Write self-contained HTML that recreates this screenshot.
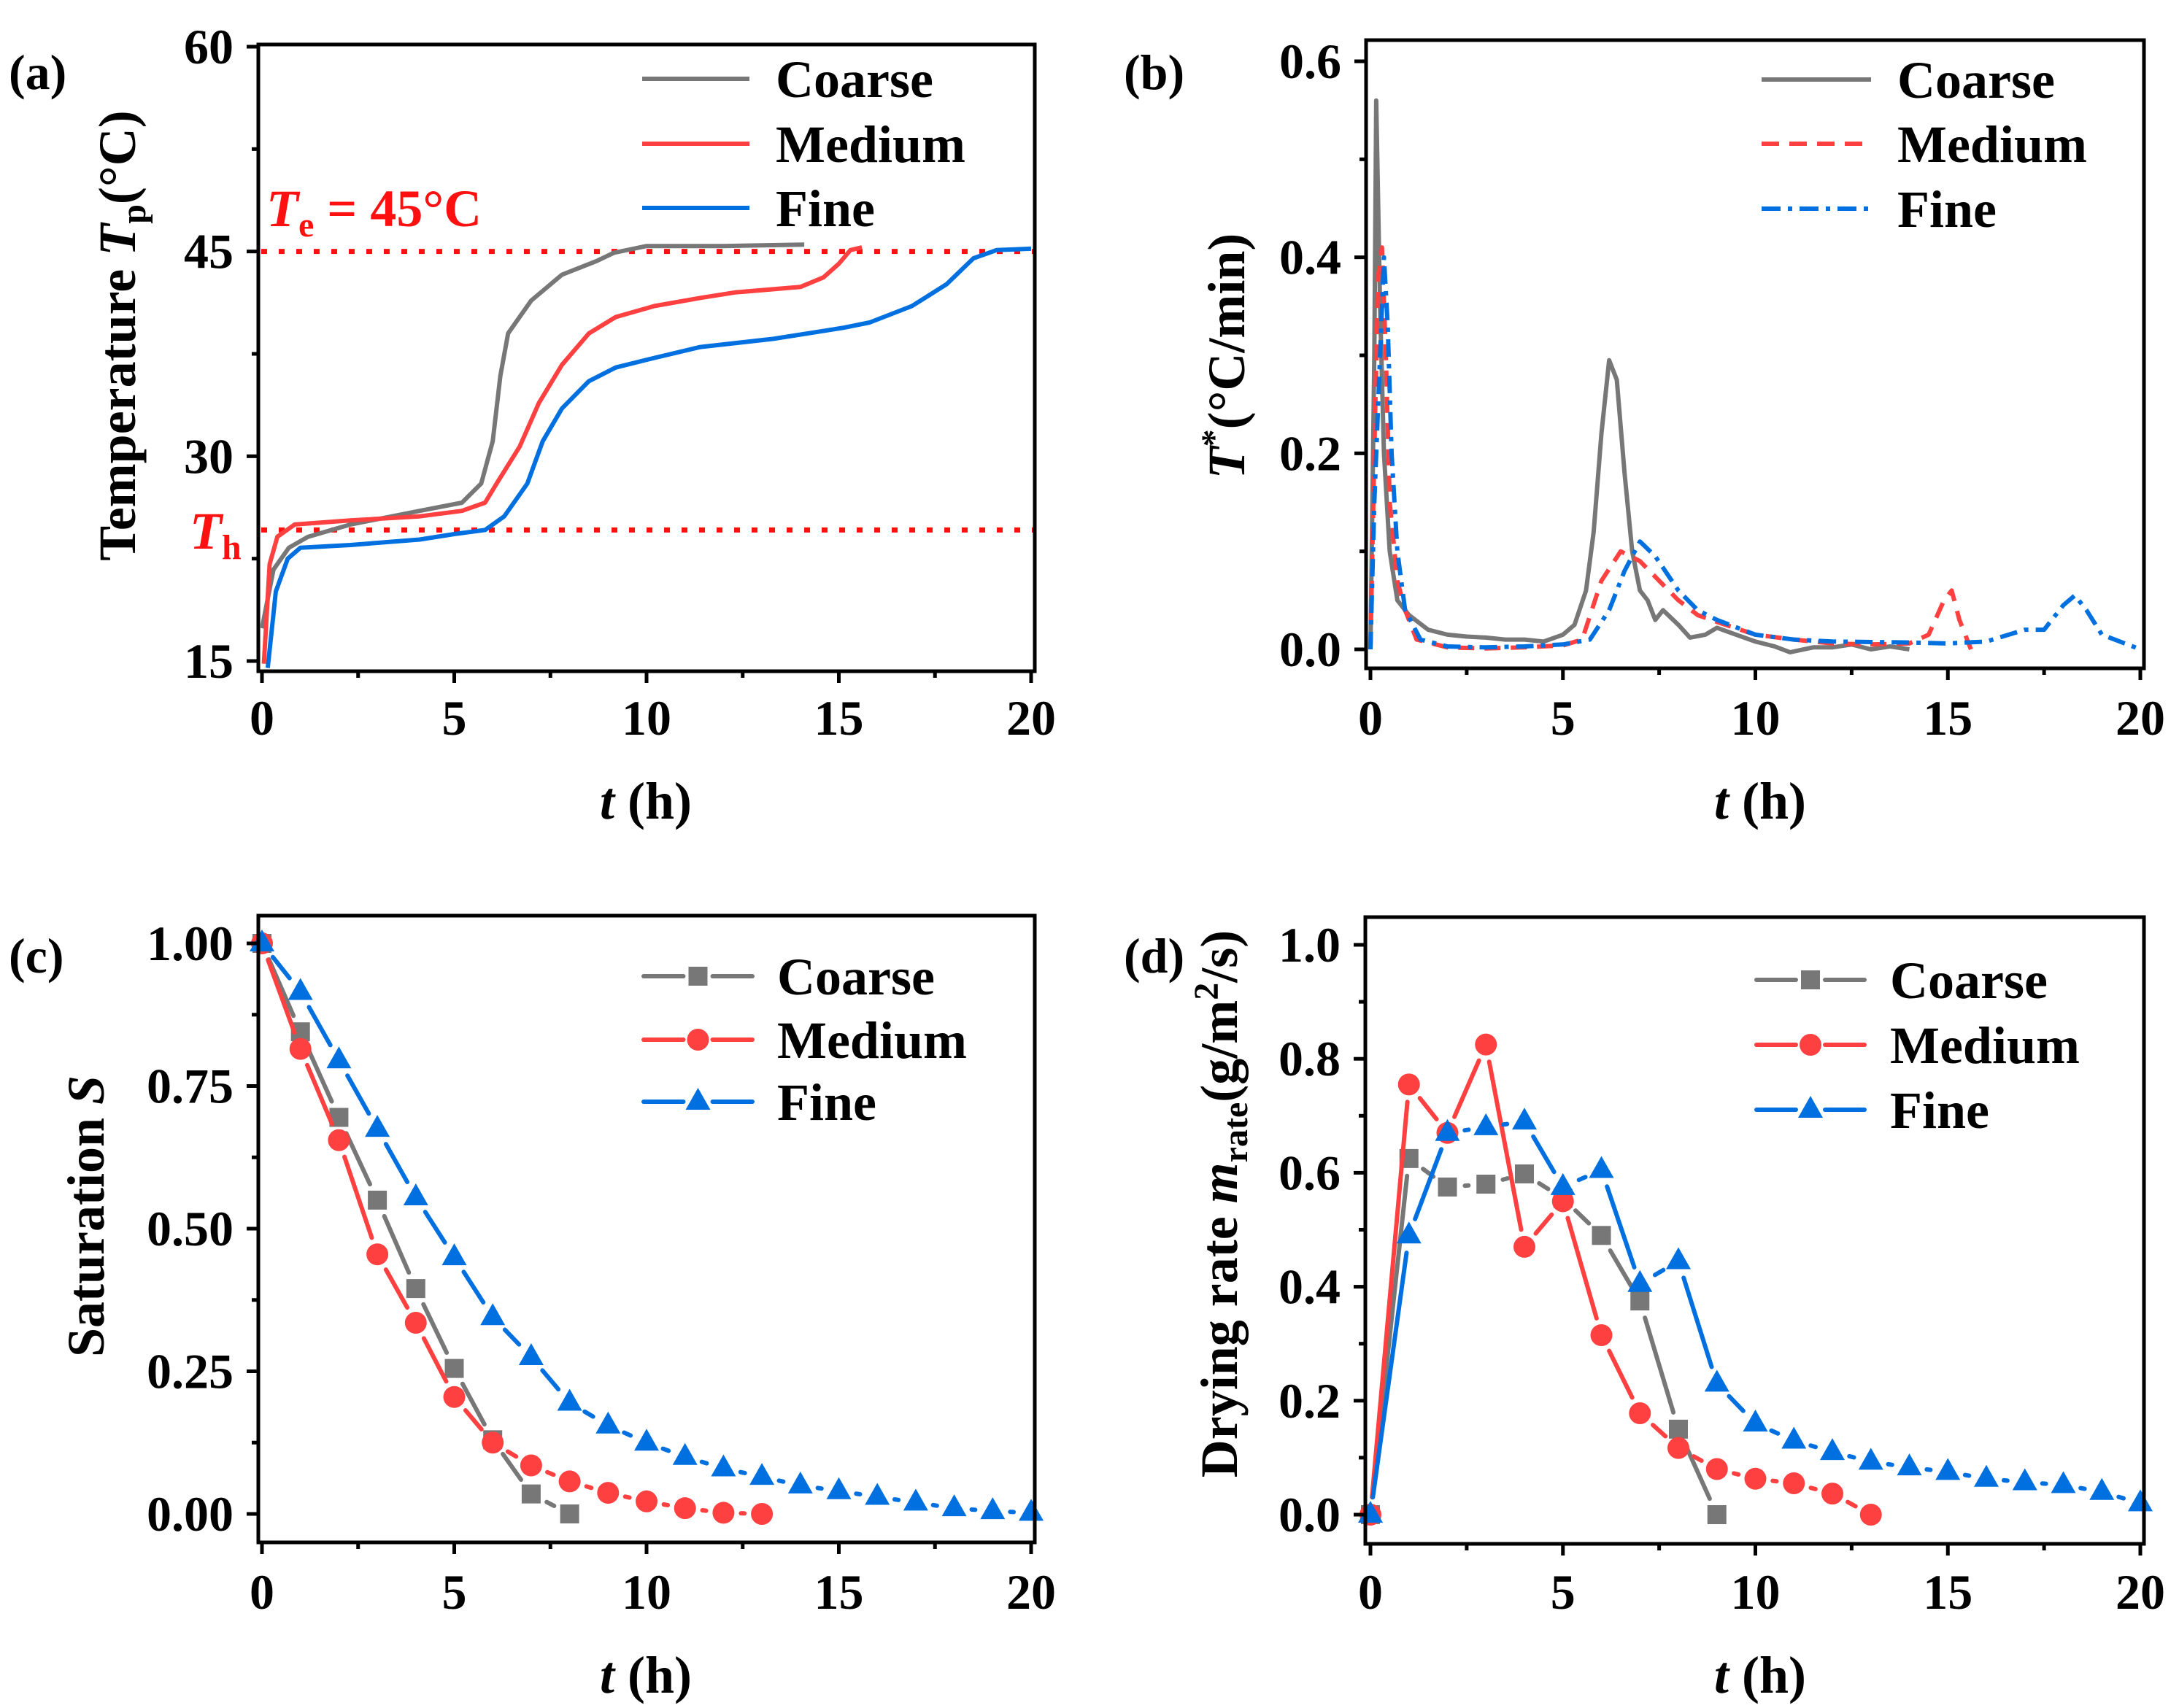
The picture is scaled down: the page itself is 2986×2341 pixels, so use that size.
<!DOCTYPE html>
<html><head><meta charset="utf-8"><style>
html,body{margin:0;padding:0;background:#fff}
svg{display:block}
text{font-family:"Liberation Serif",serif;font-weight:bold;fill:#000}
</style></head><body>
<svg id="fig" xmlns="http://www.w3.org/2000/svg" width="2986" height="2341" viewBox="0 0 2986 2341"></svg>
<script>
// ---------- DATA ----------
// (a) particle temperature
const aCoarseT=[0,0.3,0.7,1.2,2.3,4.1,5.2,5.7,6.0,6.2,6.4,7.0,7.8,8.7,9.15,10.0,12,14.1];
const aCoarseV=[17.4,21.7,23.3,24.1,25.0,26.0,26.6,28.0,31.1,35.9,39.0,41.4,43.3,44.3,44.9,45.4,45.4,45.5];
const aMediumT=[0.05,0.2,0.4,0.85,2.3,4.1,5.2,5.8,6.1,6.7,7.2,7.8,8.5,9.2,10.2,11.4,12.3,14.0,14.6,15.0,15.3,15.6];
const aMediumV=[14.8,22.1,24.1,25.0,25.3,25.6,26.0,26.6,28.0,30.7,33.9,36.7,39.0,40.2,41.0,41.6,42.0,42.4,43.1,44.1,45.1,45.3];
const aFineT=[0.15,0.36,0.67,1.0,2.3,4.1,5.0,5.8,6.3,6.9,7.3,7.8,8.5,9.2,10.2,11.4,13.3,15.1,15.8,16.9,17.8,18.5,19.1,20];
const aFineV=[14.5,20.1,22.5,23.3,23.5,23.9,24.3,24.6,25.6,28.0,31.1,33.5,35.5,36.5,37.2,38.0,38.6,39.4,39.8,41.0,42.6,44.5,45.1,45.2];
// (b) heating rate
const bCoarseT=[0,0.1,0.15,0.25,0.35,0.5,0.7,1,1.5,2,2.5,3,3.5,4,4.5,5,5.3,5.6,5.8,6.0,6.2,6.4,6.6,6.8,7.0,7.2,7.4,7.6,8,8.3,8.7,9,9.5,10,10.5,10.9,11.5,12,12.5,13,13.5,14];
const bCoarseV=[0,0.3,0.56,0.35,0.2,0.1,0.05,0.035,0.02,0.015,0.013,0.012,0.01,0.01,0.008,0.015,0.025,0.06,0.12,0.22,0.295,0.275,0.18,0.1,0.06,0.05,0.03,0.04,0.025,0.012,0.015,0.022,0.015,0.008,0.003,-0.003,0.002,0.002,0.005,0,0.003,0];
const bMediumT=[0,0.1,0.2,0.3,0.4,0.5,0.7,0.9,1.2,2,3,4,5,5.5,6,6.5,7,7.5,8,8.5,9,10,11,12,13,14,14.5,14.9,15.1,15.3,15.6];
const bMediumV=[0,0.2,0.38,0.41,0.3,0.15,0.07,0.04,0.01,0.002,0.001,0.002,0.004,0.01,0.07,0.1,0.09,0.07,0.05,0.035,0.028,0.015,0.01,0.006,0.005,0.006,0.015,0.05,0.06,0.03,0];
const bFineT=[0,0.1,0.25,0.35,0.45,0.55,0.7,0.9,1.3,2,3,4,5,5.7,6.2,6.6,7.0,7.4,8,8.5,9,10,11,12,14,15,16,17,17.5,18,18.3,18.6,19,20];
const bFineV=[0,0.15,0.3,0.4,0.33,0.2,0.1,0.04,0.01,0.003,0.002,0.003,0.005,0.01,0.04,0.08,0.11,0.095,0.06,0.04,0.03,0.015,0.01,0.008,0.007,0.006,0.008,0.02,0.02,0.045,0.055,0.04,0.015,0];
// (c) saturation
const cCoarse=[1.0,0.845,0.695,0.55,0.395,0.255,0.13,0.035,0.0];
const cMedium=[1.0,0.815,0.655,0.455,0.335,0.205,0.125,0.085,0.057,0.037,0.022,0.01,0.002,0.0];
const cFine=[1.0,0.915,0.795,0.675,0.555,0.45,0.345,0.275,0.195,0.155,0.125,0.1,0.08,0.065,0.05,0.04,0.03,0.02,0.01,0.005,0.002];
// (d) drying rate
const dCoarse=[0,0.625,0.575,0.58,0.598,0.555,0.49,0.375,0.15,0.0];
const dMedium=[0,0.755,0.67,0.825,0.47,0.55,0.315,0.178,0.117,0.08,0.063,0.055,0.037,0.0];
const dFine=[0,0.49,0.67,0.68,0.69,0.575,0.605,0.405,0.445,0.23,0.16,0.13,0.11,0.093,0.083,0.075,0.063,0.057,0.052,0.04,0.02];
const xTicks=[0,5,10,15,20];
const seriesNames=["Coarse","Medium","Fine"];

// ---------- DRAW ----------
const NS="http://www.w3.org/2000/svg";
const svg=document.getElementById('fig');
const GRAY="#777777",RED="#ff4040",BLUE="#0070e0";
function el(tag,attrs,parent){const e=document.createElementNS(NS,tag);for(const k in attrs)e.setAttribute(k,attrs[k]);(parent||svg).appendChild(e);return e;}
function txt(x,y,s,size,anchor,parent,fill){const t=el('text',{x:x,y:y,'font-size':size,'text-anchor':anchor||'start'},parent);if(fill)t.setAttribute('style','fill:'+fill);t.innerHTML=s;return t;}
function mkScale(d0,d1,p0,p1){return v=>p0+(v-d0)*(p1-p0)/(d1-d0);}

function axes(name,fr,sx,sy,yMaj,yMin,yFmt,xLabelY){
  const g=el('g',{});
  
  
  const r=el('rect',{x:fr[0],y:fr[1],width:fr[2]-fr[0],height:fr[3]-fr[1],fill:'none',stroke:'#000','stroke-width':5},g);
  
  
  for(let v=0;v<=20;v+=2.5){const x=sx(v);const maj=(v%5===0);
    el('line',{x1:x,y1:fr[3],x2:x,y2:fr[3]+(maj?16:9),stroke:'#000','stroke-width':5},g);
    if(maj){const t=txt(x,xLabelY,String(v),68,'middle',g);}}
  yMin.forEach(v=>{const y=sy(v);el('line',{x1:fr[0],y1:y,x2:fr[0]-9,y2:y,stroke:'#000','stroke-width':5},g);});
  yMaj.forEach(v=>{const y=sy(v);el('line',{x1:fr[0],y1:y,x2:fr[0]-16,y2:y,stroke:'#000','stroke-width':5},g);
    const t=txt(fr[0]-34,y+23,yFmt(v),68,'end',g);});
  return g;
}
function poly(ts,vs,sx,sy,color,dash,name,clip){
  const pts=ts.map((t,i)=>sx(t).toFixed(1)+','+sy(vs[i]).toFixed(1)).join(' ');
  const p=el('polyline',{points:pts,fill:'none',stroke:color,'stroke-width':6,'stroke-linejoin':'round','stroke-linecap':'butt'});
  if(dash)p.setAttribute('stroke-dasharray',dash);
  if(clip)p.setAttribute('clip-path',clip);
  
  
}
function marker(type,x,y,color,parent){
  let m;
  if(type==='sq')m=el('rect',{x:x-13,y:y-13,width:26,height:26,fill:color},parent);
  else if(type==='ci')m=el('circle',{cx:x,cy:y,r:15,fill:color},parent);
  else m=el('polygon',{points:`${x},${y-19} ${x+17},${y+11} ${x-17},${y+11}`,fill:color},parent);
  return m;
}
function markerSeries(vals,sx,sy,color,type,name){
  const g=el('g',{});
  
  
  const gap=24;
  for(let i=0;i<vals.length-1;i++){
    const x1=sx(i),y1=sy(vals[i]),x2=sx(i+1),y2=sy(vals[i+1]);
    const L=Math.hypot(x2-x1,y2-y1);if(L<=2*gap)continue;
    const ux=(x2-x1)/L,uy=(y2-y1)/L;
    el('line',{x1:x1+ux*gap,y1:y1+uy*gap,x2:x2-ux*gap,y2:y2-uy*gap,stroke:color,'stroke-width':6,'stroke-linecap':'round'},g);
  }
  vals.forEach((v,i)=>{const m=marker(type,sx(i),sy(v),color,g);});
}
function legend(x1,x2,tx,rows,items,name){
  const g=el('g',{});
  
  
  items.forEach((it,i)=>{const y=rows[i];
    if(it.m){
      el('line',{x1:x1,y1:y,x2:(x1+x2)/2-20,y2:y,stroke:it.c,'stroke-width':6,'stroke-linecap':'round'},g);
      el('line',{x1:(x1+x2)/2+20,y1:y,x2:x2,y2:y,stroke:it.c,'stroke-width':6,'stroke-linecap':'round'},g);
      marker(it.m,(x1+x2)/2,y,it.c,g);
    } else {
      const ln=el('line',{x1:x1,y1:y,x2:x2,y2:y,stroke:it.c,'stroke-width':6},g);
      if(it.d)ln.setAttribute('stroke-dasharray',it.d);
    }
    const t=txt(tx,y+25,seriesNames[i],72,'start',g);
    
    
  });
}
function rotTitle(x,y,html,name){
  const t=el('text',{x:0,y:0,'font-size':72,'text-anchor':'middle',transform:`translate(${x},${y}) rotate(-90)`});
  t.innerHTML=html;
  
  
}
function clipFor(id,fr){const cp=el('clipPath',{id:id});el('rect',{x:fr[0]+3,y:fr[1]+3,width:fr[2]-fr[0]-6,height:fr[3]-fr[1]-6},cp);return 'url(#'+id+')';}

// ----- Panel (a)
{
  const fr=[354,61,1418,920];
  const sx=mkScale(0,20,359,1413), sy=mkScale(15,60,906,64);
  const clip=clipFor('ca',fr);
  const l1=el('line',{x1:fr[0]+4,y1:sy(45),x2:fr[2],y2:sy(45),stroke:'#ff1010','stroke-width':7,'stroke-dasharray':'8,16'});
  
  const l2=el('line',{x1:fr[0]+4,y1:sy(24.6),x2:fr[2],y2:sy(24.6),stroke:'#ff1010','stroke-width':7,'stroke-dasharray':'8,16'});
  
  poly(aCoarseT,aCoarseV,sx,sy,GRAY,null,'coarse-temperature-line',clip);
  poly(aMediumT,aMediumV,sx,sy,RED,null,'medium-temperature-line',clip);
  poly(aFineT,aFineV,sx,sy,BLUE,null,'fine-temperature-line',clip);
  axes('panel-a',fr,sx,sy,[15,30,45,60],[22.5,37.5,52.5],v=>String(v),1007);
  legend(880,1027,1063,[108,197,285],[{c:GRAY},{c:RED},{c:BLUE}],'legend-a');
  const te=txt(365,310,'<tspan font-style="italic">T</tspan><tspan font-size="48" dy="14">e</tspan><tspan dy="-14"> = 45°C</tspan>',72,'start',null,'#ff1010');
  
  const th=txt(260,752,'<tspan font-style="italic">T</tspan><tspan font-size="48" dy="14">h</tspan>',72,'start',null,'#ff1010');
  
  rotTitle(185,460,'Temperature <tspan font-style="italic">T</tspan><tspan font-size="48" dy="14">p</tspan><tspan dy="-14">(°C)</tspan>','y-axis-title-a');
  const xt=txt(885,1122,'<tspan font-style="italic">t</tspan> (h)',72,'middle');
  const pl=txt(12,122,'(a)',68,'start');
}
// ----- Panel (b)
{
  const fr=[1872,55,2938,916];
  const sx=mkScale(0,20,1878,2933), sy=mkScale(0,0.6,890,84);
  const clip=clipFor('cb',fr);
  poly(bCoarseT,bCoarseV,sx,sy,GRAY,null,'coarse-rate-line',clip);
  poly(bMediumT,bMediumV,sx,sy,RED,'22,14','medium-rate-line',clip);
  poly(bFineT,bFineV,sx,sy,BLUE,'24,10,6,10','fine-rate-line',clip);
  axes('panel-b',fr,sx,sy,[0,0.2,0.4,0.6],[0.1,0.3,0.5],v=>v.toFixed(1),1007);
  legend(2414,2564,2600,[109,197,286],[{c:GRAY},{c:RED,d:'24,14'},{c:BLUE,d:'26,10,6,10'}],'legend-b');
  rotTitle(1705,488,'<tspan font-style="italic">T</tspan><tspan font-size="48" dy="-26">*</tspan><tspan dy="26">(°C/min)</tspan>','y-axis-title-b');
  const xt=txt(2412,1122,'<tspan font-style="italic">t</tspan> (h)',72,'middle');
  const pl=txt(1540,122,'(b)',68,'start');
}
// ----- Panel (c)
{
  const fr=[354,1255,1418,2114];
  const sx=mkScale(0,20,359,1413), sy=mkScale(0,1,2075,1293);
  markerSeries(cCoarse,sx,sy,GRAY,'sq','coarse-saturation-series');
  markerSeries(cMedium,sx,sy,RED,'ci','medium-saturation-series');
  markerSeries(cFine,sx,sy,BLUE,'tr','fine-saturation-series');
  axes('panel-c',fr,sx,sy,[0,0.25,0.5,0.75,1.0],[0.125,0.375,0.625,0.875],v=>v.toFixed(2),2205);
  legend(882,1031,1065,[1338,1425,1510],[{c:GRAY,m:'sq'},{c:RED,m:'ci'},{c:BLUE,m:'tr'}],'legend-c');
  rotTitle(142,1667,'Saturation <tspan font-style="italic">S</tspan>','y-axis-title-c');
  const xt=txt(885,2320,'<tspan font-style="italic">t</tspan> (h)',72,'middle');
  const pl=txt(12,1333,'(c)',68,'start');
}
// ----- Panel (d)
{
  const fr=[1871,1257,2938,2116];
  const sx=mkScale(0,20,1878,2933), sy=mkScale(0,1,2076,1295);
  markerSeries(dCoarse,sx,sy,GRAY,'sq','coarse-drying-rate-series');
  markerSeries(dMedium,sx,sy,RED,'ci','medium-drying-rate-series');
  markerSeries(dFine,sx,sy,BLUE,'tr','fine-drying-rate-series');
  axes('panel-d',fr,sx,sy,[0,0.2,0.4,0.6,0.8,1.0],[0.1,0.3,0.5,0.7,0.9],v=>v.toFixed(1),2205);
  legend(2407,2555,2590,[1343,1432,1521],[{c:GRAY,m:'sq'},{c:RED,m:'ci'},{c:BLUE,m:'tr'}],'legend-d');
  rotTitle(1695,1650,'Drying rate <tspan font-style="italic">m</tspan><tspan font-size="48" dy="14">rate</tspan><tspan dy="-14">(g/m</tspan><tspan font-size="48" dy="-26">2</tspan><tspan dy="26">/s)</tspan>','y-axis-title-d');
  const xt=txt(2412,2320,'<tspan font-style="italic">t</tspan> (h)',72,'middle');
  const pl=txt(1540,1333,'(d)',68,'start');
}
</script>
</body></html>
